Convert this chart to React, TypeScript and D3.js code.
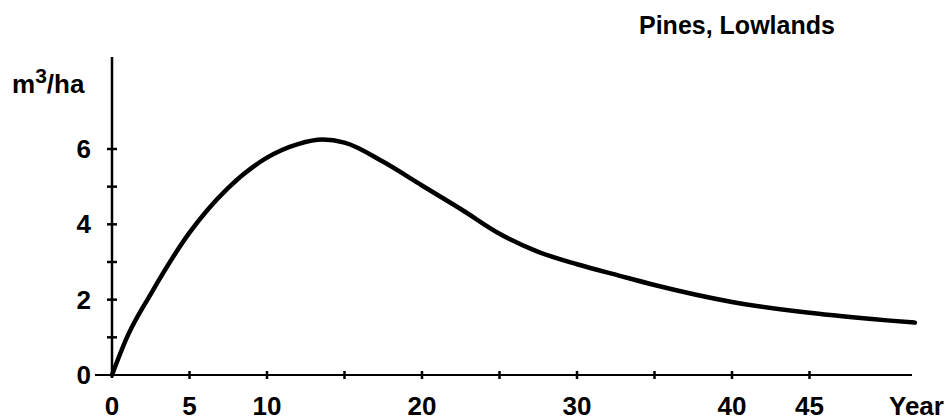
import * as d3 from "d3";

// curve
const years = [0, 1, 2.5, 5, 7.5, 10, 12, 13.6, 15, 17.5, 20, 22.6, 25, 27.5, 30, 32.7, 35, 40, 45, 50, 51.8];
const volumes = [0, 1.03, 2.15, 3.78, 4.97, 5.77, 6.13, 6.25, 6.17, 5.66, 5.03, 4.38, 3.75, 3.27, 2.94, 2.64, 2.39, 1.94, 1.65, 1.45, 1.39];

const xTicks = [0, 5, 10, 15, 20, 25, 30, 35, 40, 45];
const xLabels = [0, 5, 10, 20, 30, 40, 45];
const yTicks = [1, 2, 3, 4, 5, 6];
const yLabels = [0, 2, 4, 6];

const title = "Pines, Lowlands";
const xTitle = "Year";

const width = 951;
const height = 420;
const font = "'Liberation Sans', Arial, sans-serif";

export default function App() {
  const x = d3.scaleLinear().domain([0, 50]).range([112, 887]);
  const y = d3.scaleLinear().domain([0, 6]).range([375, 149]);

  const points: [number, number][] = years.map((yr, i) => [yr, volumes[i]]);
  const line = d3
    .line<[number, number]>()
    .x((d) => x(d[0]))
    .y((d) => y(d[1]))
    .curve(d3.curveMonotoneX);

  return (
    <div style={{ position: "fixed", left: 0, top: 0 }}>
      <svg width={width} height={height} viewBox={`0 0 ${width} ${height}`}>
        <rect width={width} height={height} fill="#fff" />
        <g fontFamily={font} fontWeight="bold" fill="#000">
          <text x={639} y={34} fontSize={25}>
            {title}
          </text>
          <text x={12} y={93} fontSize={26}>
            m
            <tspan fontSize={21} dy={-10}>
              3
            </tspan>
            <tspan dy={10}>/ha</tspan>
          </text>
          {yLabels.map((v) => (
            <text key={v} x={91} y={y(v) + 9} fontSize={26} textAnchor="end">
              {v}
            </text>
          ))}
          {xLabels.map((v) => (
            <text key={v} x={x(v)} y={415} fontSize={26} textAnchor="middle">
              {v}
            </text>
          ))}
          <text x={889} y={415} fontSize={26}>
            {xTitle}
          </text>
        </g>

        {/* axes */}
        <line x1={x(0)} x2={x(0)} y1={57} y2={378} stroke="#000" strokeWidth={2.5} />
        <line x1={95} x2={912} y1={y(0)} y2={y(0)} stroke="#000" strokeWidth={2} />
        {yTicks.map((v) => (
          <line key={v} x1={x(0) - 5} x2={x(0) + 5} y1={y(v)} y2={y(v)} stroke="#000" strokeWidth={2.5} />
        ))}
        {xTicks
          .filter((v) => v > 0)
          .map((v) => (
            <line key={v} x1={x(v)} x2={x(v)} y1={y(0) - 4} y2={y(0) + 4} stroke="#000" strokeWidth={2.5} />
          ))}

        <path d={line(points)!} fill="none" stroke="#000" strokeWidth={4.5} strokeLinecap="round" />
      </svg>
    </div>
  );
}
